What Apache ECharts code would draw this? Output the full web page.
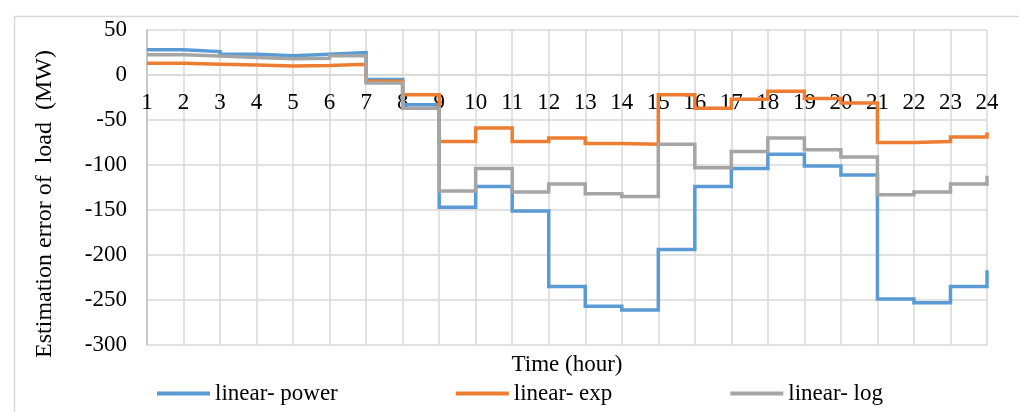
<!DOCTYPE html>
<html>
<head>
<meta charset="utf-8">
<script src="https://cdn.jsdelivr.net/npm/echarts@6/dist/echarts.min.js"></script>
<style>html,body{margin:0;padding:0;background:#fff}#chart{width:1019px;height:412px}</style>
</head>
<body>
<div id="chart"></div>
<script>
var hours = ['1','2','3','4','5','6','7','8','9','10','11','12','13','14','15','16','17','18','19','20','21','22','23','24'];
var linearPower = [28, 26, 23, 21.5, 23, 25, -5, -33, -147, -124, -151, -235, -257, -261, -194, -124, -104, -88, -101, -111, -249, -253, -235, -217];
var linearExp = [13, 12, 11, 10, 10.5, 12, -7, -22, -74, -59, -74, -70, -76, -77, -22, -37, -27, -18, -26, -31, -75, -74, -69, -64];
var linearLog = [22.5, 21, 19.5, 18, 18.5, 21.5, -9, -37, -129, -104, -130, -121, -132, -135, -77, -103, -85, -70, -83, -91, -133, -130, -121, -112];
var seriesNames = ['linear- power', 'linear- exp', 'linear- log'];
var yAxisTitle = 'Estimation error of  load  (MW)';
var xAxisTitle = 'Time (hour)';

var FONT = '"Liberation Serif", "Times New Roman", serif';
var chart = echarts.init(document.getElementById('chart'), null, {renderer: 'canvas'});
function mk(name, data, color) {
  return {
    name: name, type: 'line', step: 'end', data: data, showSymbol: false, symbol: 'none',
    lineStyle: {color: color, width: 3.5, join: 'miter'}, itemStyle: {color: color}, animation: false
  };
}
chart.setOption({
  animation: false,
  grid: {left: 147, right: 32, top: 30, bottom: 67},
  legend: {
    left: 152, top: 377, itemGap: 118, itemWidth: 53, itemHeight: 4, icon: 'rect',
    textStyle: {fontFamily: FONT, fontSize: 23, color: '#000'},
    data: seriesNames
  },
  xAxis: {
    type: 'category', data: hours, boundaryGap: false, offset: -270,
    axisLine: {onZero: false, lineStyle: {color: '#d9d9d9', width: 1.5}},
    axisTick: {show: false},
    axisLabel: {interval: 0, margin: 16, fontFamily: FONT, fontSize: 23, color: '#000'},
    splitLine: {show: true, interval: 0, lineStyle: {color: '#d9d9d9', width: 1.5}}
  },
  yAxis: {
    type: 'value', min: -300, max: 50, interval: 50,
    axisLine: {show: true, onZero: false, lineStyle: {color: '#bfbfbf', width: 1.5}},
    axisTick: {show: false},
    axisLabel: {margin: 20, fontFamily: FONT, fontSize: 23, color: '#000'},
    splitLine: {show: true, lineStyle: {color: '#d9d9d9', width: 1.5}}
  },
  graphic: [
    {type: 'rect', left: 12, top: 14, shape: {width: 1020, height: 410}, style: {fill: 'none', stroke: '#d9d9d9', lineWidth: 1.5}, z: -1},
    {type: 'text', x: 45, y: 204, rotation: Math.PI / 2, style: {text: yAxisTitle, font: '24px ' + FONT, fill: '#000', align: 'center', verticalAlign: 'middle'}},
    {type: 'text', x: 567, y: 365, style: {text: xAxisTitle, font: '23px ' + FONT, fill: '#000', align: 'center', verticalAlign: 'middle'}}
  ],
  series: [
    mk(seriesNames[0], linearPower, '#5B9BD5'),
    mk(seriesNames[1], linearExp, '#ED7D31'),
    mk(seriesNames[2], linearLog, '#A5A5A5')
  ]
});
</script>
</body>
</html>
